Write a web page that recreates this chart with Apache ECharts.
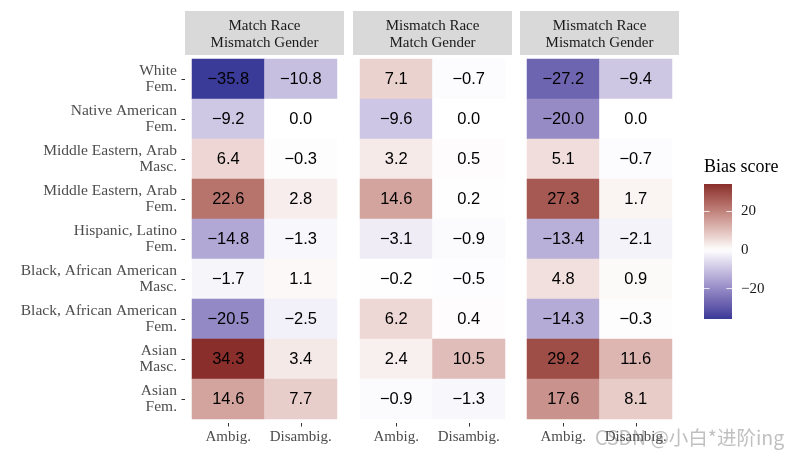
<!DOCTYPE html>
<html>
<head>
<meta charset="utf-8">
<script src="https://cdn.jsdelivr.net/npm/echarts@6/dist/echarts.min.js"></script>
<style>html,body{margin:0;padding:0;background:#fff}#c{width:800px;height:458px}</style>
</head>
<body>
<div id="c"></div>
<script>
// ---- data ----
const rows = ["White\nFem.", "Native American\nFem.", "Middle Eastern, Arab\nMasc.", "Middle Eastern, Arab\nFem.", "Hispanic, Latino\nFem.", "Black, African American\nMasc.", "Black, African American\nFem.", "Asian\nMasc.", "Asian\nFem."];
const cols = ["Ambig.", "Disambig."];
const panels = ["Match Race\nMismatch Gender", "Mismatch Race\nMatch Gender", "Mismatch Race\nMismatch Gender"];
const p1Ambig = [-35.8, -9.2, 6.4, 22.6, -14.8, -1.7, -20.5, 34.3, 14.6];
const p1Disambig = [-10.8, 0.0, -0.3, 2.8, -1.3, 1.1, -2.5, 3.4, 7.7];
const p2Ambig = [7.1, -9.6, 3.2, 14.6, -3.1, -0.2, 6.2, 2.4, -0.9];
const p2Disambig = [-0.7, 0.0, 0.5, 0.2, -0.9, -0.5, 0.4, 10.5, -1.3];
const p3Ambig = [-27.2, -20.0, 5.1, 27.3, -13.4, 4.8, -14.3, 29.2, 17.6];
const p3Disambig = [-9.4, 0.0, -0.7, 1.7, -2.1, 0.9, -0.3, 11.6, 8.1];
const legendTicks = [-20, 0, 20];

// ---- colour scale (Lab interpolation, like ggplot gradient2) ----
const LOW = "#3A3A98", MID = "#FFFFFF", HIGH = "#832424";
function hex2rgb(h){return [parseInt(h.slice(1,3),16),parseInt(h.slice(3,5),16),parseInt(h.slice(5,7),16)];}
function s2l(c){c/=255;return c<=0.04045?c/12.92:Math.pow((c+0.055)/1.055,2.4);}
function l2s(c){const v=c<=0.0031308?12.92*c:1.055*Math.pow(c,1/2.4)-0.055;return Math.round(Math.max(0,Math.min(1,v))*255);}
function rgb2lab(rgb){const r=s2l(rgb[0]),g=s2l(rgb[1]),b=s2l(rgb[2]);
  const X=(0.4124564*r+0.3575761*g+0.1804375*b)/0.95047,Y=(0.2126729*r+0.7151522*g+0.0721750*b),Z=(0.0193339*r+0.1191920*g+0.9503041*b)/1.08883;
  const f=t=>t>0.008856?Math.cbrt(t):7.787*t+16/116;const fx=f(X),fy=f(Y),fz=f(Z);
  return [116*fy-16,500*(fx-fy),200*(fy-fz)];}
function lab2hex(lab){const fy=(lab[0]+16)/116,fx=fy+lab[1]/500,fz=fy-lab[2]/200;
  const fi=t=>{const t3=t*t*t;return t3>0.008856?t3:(t-16/116)/7.787;};
  const X=fi(fx)*0.95047,Y=fi(fy),Z=fi(fz)*1.08883;
  const r=3.2404542*X-1.5371385*Y-0.4985314*Z,g=-0.9692660*X+1.8760108*Y+0.0415560*Z,b=0.0556434*X-0.2040259*Y+1.0572252*Z;
  return '#'+[l2s(r),l2s(g),l2s(b)].map(v=>v.toString(16).padStart(2,'0')).join('');}
const labL=rgb2lab(hex2rgb(LOW)),labM=rgb2lab(hex2rgb(MID)),labH=rgb2lab(hex2rgb(HIGH));
const allVals=[].concat(p1Ambig,p1Disambig,p2Ambig,p2Disambig,p3Ambig,p3Disambig);
const vMin=Math.min(...allVals), vMax=Math.max(...allVals);
const vAbs=Math.max(Math.abs(vMin),Math.abs(vMax));
function colorOf(v){const t=Math.min(1,Math.abs(v)/vAbs);const e=v<0?labL:labH;
  return lab2hex([0,1,2].map(i=>labM[i]+(e[i]-labM[i])*t));}
const vmColors=[];for(let i=0;i<=70;i++){vmColors.push(colorOf(-vAbs+2*vAbs*i/70));}
const barStops=[];for(let i=0;i<=40;i++){const v=vMax-(vMax-vMin)*i/40;barStops.push({offset:i/40,color:colorOf(v)});}

// ---- layout ----
const gridLefts=[192,360,527], cellW=145, gridTop=59, gridH=360, pad=7;
const serif="'Liberation Serif','Times New Roman',serif";
const sans="'Liberation Sans',Arial,sans-serif";
const fmt=v=>v.toFixed(1).replace('-','\u2212');

const panelData=[[p1Ambig,p1Disambig],[p2Ambig,p2Disambig],[p3Ambig,p3Disambig]];
const grids=[],xAxes=[],yAxes=[],series=[],graphics=[];
panelData.forEach((pd,pi)=>{
  grids.push({left:gridLefts[pi],top:gridTop,width:cellW,height:gridH});
  xAxes.push({type:'category',gridIndex:pi,data:cols,position:'bottom',offset:4,
    axisLine:{show:false},axisTick:{show:true,alignWithLabel:true,length:3.5,lineStyle:{color:'#333',width:1}},
    axisLabel:{color:'#4D4D4D',fontFamily:serif,fontSize:15,margin:7,interval:0,hideOverlap:false},splitLine:{show:false}});
  yAxes.push({type:'category',gridIndex:pi,data:rows,inverse:true,offset:7,show:pi===0,
    axisLine:{show:false},axisTick:{show:true,alignWithLabel:true,length:3.5,lineStyle:{color:'#333',width:1}},
    axisLabel:{color:'#4D4D4D',fontFamily:serif,fontSize:15.5,lineHeight:16,margin:8,align:'right',interval:0,hideOverlap:false},splitLine:{show:false}});
  const data=[];
  pd.forEach((arr,ci)=>arr.forEach((v,ri)=>data.push([ci,ri,v])));
  series.push({type:'heatmap',xAxisIndex:pi,yAxisIndex:pi,data:data,
    label:{show:true,formatter:p=>fmt(p.value[2]),color:'#000',fontFamily:sans,fontSize:16.5},
    itemStyle:{borderWidth:0},emphasis:{disabled:true}});
  graphics.push({type:'rect',shape:{x:gridLefts[pi]-pad,y:11,width:cellW+2*pad,height:44},style:{fill:'#D9D9D9'},silent:true});
  graphics.push({type:'text',x:gridLefts[pi]+cellW/2,y:35,style:{text:panels[pi],fill:'#1A1A1A',font:'15px '+serif,lineHeight:17,align:'center',verticalAlign:'middle'},silent:true});
});
// colour bar grid
grids.push({left:704,top:184,width:28,height:135});
xAxes.push({type:'value',gridIndex:3,min:0,max:1,show:false});
yAxes.push({type:'value',gridIndex:3,min:vMin,max:vMax,position:'right',
  axisLine:{show:false},axisTick:{show:false},splitLine:{show:false},
  axisLabel:{show:true,customValues:legendTicks,formatter:v=>String(v).replace('-','\u2212'),color:'#1A1A1A',fontFamily:serif,fontSize:15,margin:9,verticalAlign:'middle',padding:[6,0,0,0]}});
series.push({type:'custom',xAxisIndex:3,yAxisIndex:3,data:[[0.5,0]],silent:true,
  renderItem:(params,api)=>{
    const cs=params.coordSys;const top=api.coord([0,vMax])[1],bot=api.coord([0,vMin])[1];
    const ch=[{type:'rect',shape:{x:cs.x,y:top,width:cs.width,height:bot-top},
      style:{fill:new echarts.graphic.LinearGradient(0,0,0,1,barStops)}}];
    const tl=cs.width/5;
    legendTicks.forEach(t=>{const y=api.coord([0,t])[1];
      ch.push({type:'line',shape:{x1:cs.x,y1:y,x2:cs.x+tl,y2:y},style:{stroke:'rgba(255,255,255,0.8)',lineWidth:1}});
      ch.push({type:'line',shape:{x1:cs.x+cs.width-tl,y1:y,x2:cs.x+cs.width,y2:y},style:{stroke:'rgba(255,255,255,0.8)',lineWidth:1}});});
    return {type:'group',children:ch};
  }});
graphics.push({type:'text',x:704,y:167,style:{text:'Bias score',fill:'#000',font:'18px '+serif,verticalAlign:'middle'},silent:true});
graphics.push({type:'text',x:595,y:438,style:{text:'CSDN @小白*进阶ing',fill:'rgba(140,140,140,0.55)',font:"19.5px 'Noto Sans CJK SC',sans-serif",verticalAlign:'middle'},silent:true});

const chart=echarts.init(document.getElementById('c'),null,{renderer:'canvas'});
chart.setOption({
  animation:false,backgroundColor:'#fff',
  grid:grids,xAxis:xAxes,yAxis:yAxes,series:series,graphic:graphics,
  visualMap:{type:'continuous',show:false,min:-vAbs,max:vAbs,dimension:2,seriesIndex:[0,1,2],inRange:{color:vmColors}}
});
</script>
</body>
</html>
